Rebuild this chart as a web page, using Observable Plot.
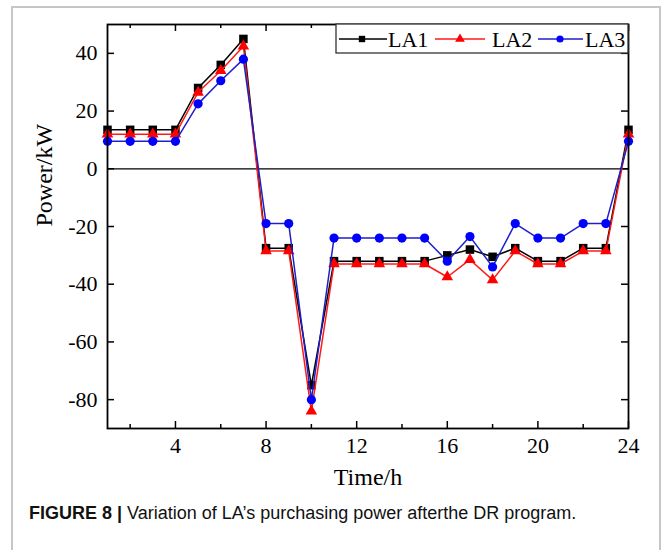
<!DOCTYPE html>
<html>
<head>
<meta charset="utf-8">
<script src="https://cdn.jsdelivr.net/npm/d3@7"></script>
<script src="https://cdn.jsdelivr.net/npm/@observablehq/plot@0.6"></script>
<style>
  html, body { margin: 0; padding: 0; background: #fff; }
  #wrap { position: relative; width: 664px; height: 550px; overflow: hidden; background: #fff; }
  #border { position: absolute; left: 11px; top: 6px; width: 650px; height: 600px; box-sizing: border-box;
            border: 2px solid #c6c6c6; border-bottom: none; }
  #chart { position: absolute; left: 0; top: 0; }
  #legend { position: absolute; left: 336px; top: 24px; }
  #caption { position: absolute; left: 29px; top: 503px; font-family: "Liberation Sans", Arial, sans-serif;
             font-size: 18px; line-height: 20px; color: #111; white-space: nowrap; }
  #caption b { font-weight: bold; }
</style>
</head>
<body>
<div id="wrap">
  <div id="border"></div>
  <div id="chart"></div>
  <div id="legend"></div>
  <div id="caption"><b>FIGURE 8 |</b> Variation of LA’s purchasing power afterthe DR program.</div>
</div>
<script>
// ---- data ----
const hours = [1,2,3,4,5,6,7,8,9,10,11,12,13,14,15,16,17,18,19,20,21,22,23,24];
const seriesNames = ["LA1", "LA2", "LA3"];
const LA1 = [13.5,13.5,13.5,13.5,28,36,45,-27.5,-27.5,-75,-32,-32,-32,-32,-32,-30,-28,-30.5,-27.5,-32,-32,-27.5,-27.5,13.5];
const LA2 = [12,12,12,12,26.5,34,42.5,-28.5,-28.5,-84,-33,-33,-33,-33,-33,-37.5,-31.5,-38.5,-28.5,-33,-33,-28.5,-28.5,12];
const LA3 = [9.5,9.5,9.5,9.5,22.5,30.5,38,-19,-19,-80,-24,-24,-24,-24,-24,-32,-23.5,-34,-19,-24,-24,-19,-19,9.5];
const xTickLabels = [4, 8, 12, 16, 20, 24];
const xMinorTicks = [2, 6, 10, 14, 18, 22];
const yTickLabels = [-80, -60, -40, -20, 0, 20, 40];

// ---- styles ----
const lineColors = {LA1: "#000000", LA2: "#ff1a1a", LA3: "#1f1fc8"};
const markColors = {LA1: "#000000", LA2: "#ff0000", LA3: "#0000ff"};
const symbols = {LA1: "square", LA2: "triangle", LA3: "circle"};
const radii = {LA1: 4.8, LA2: 4.3, LA3: 4.6};

const valuesBy = {LA1, LA2, LA3};
const rows = seriesNames.flatMap(s => hours.map((h, i) => ({series: s, hour: h, value: valuesBy[s][i]})));

const W = 664, H = 500, mL = 107, mR = 36, mT = 24, mB = 72;
const plotW = W - mL - mR, plotH = H - mT - mB;
const font = "Liberation Serif, Times New Roman, serif";

const seriesMarks = seriesNames.flatMap(s => {
  const d = rows.filter(r => r.series === s);
  return [
    Plot.line(d, {x: "hour", y: "value", stroke: lineColors[s], strokeWidth: 1.5}),
    Plot.dot(d, {x: "hour", y: "value", symbol: () => symbols[s], fill: markColors[s], stroke: "none", r: radii[s]})
  ];
});

const chart = Plot.plot({
  width: W, height: H,
  marginLeft: mL, marginRight: mR, marginTop: mT, marginBottom: mB,
  style: {fontFamily: font, fontSize: "22px", color: "#000", background: "transparent", overflow: "visible"},
  x: {domain: [1, 24], axis: null},
  y: {domain: [-90, 50], axis: null},
  symbol: {type: "identity"},
  marks: [
    Plot.ruleY([0], {stroke: "#000", strokeWidth: 1.2}),
    // inward ticks
    Plot.tickY(yTickLabels, {y: d => d, insetRight: plotW - 7, stroke: "#000", strokeWidth: 1.5}),
    Plot.tickY(yTickLabels, {y: d => d, insetLeft: plotW - 7, stroke: "#000", strokeWidth: 1.5}),
    Plot.tickX(xTickLabels, {x: d => d, insetTop: plotH - 7, stroke: "#000", strokeWidth: 1.5}),
    Plot.tickX(xMinorTicks, {x: d => d, insetTop: plotH - 4, stroke: "#000", strokeWidth: 1.5}),
    Plot.tickX(xTickLabels, {x: d => d, insetBottom: plotH - 7, stroke: "#000", strokeWidth: 1.5}),
    Plot.tickX(xMinorTicks, {x: d => d, insetBottom: plotH - 4, stroke: "#000", strokeWidth: 1.5}),
    Plot.axisY({ticks: yTickLabels, tickSize: 0, tickPadding: 10, fontSize: 22, tickFormat: d => String(d), label: null}),
    Plot.axisX({ticks: xTickLabels, tickSize: 0, tickPadding: 9, fontSize: 22, tickFormat: d => String(d), label: null}),
    Plot.text(["Time/h"], {frameAnchor: "bottom", dy: 56, fontSize: 24, fill: "#000"}),
    Plot.text(["Power/kW"], {frameAnchor: "left", dx: -63, rotate: -90, fontSize: 24, fill: "#000"}),
    ...seriesMarks,
    Plot.frame({stroke: "#000", strokeWidth: 1.8})
  ]
});
document.getElementById("chart").appendChild(chart);

// ---- legend (inside top-right of the frame) ----
const legW = 292, legH = 29;
const legItems = [
  {name: "LA1", x0: 3, x1: 51, mx: 26, tx: 52},
  {name: "LA2", x0: 99, x1: 149, mx: 124, tx: 156},
  {name: "LA3", x0: 202, x1: 247, mx: 224, tx: 249}
];
const leg = d3.select("#legend").append("svg").attr("width", legW + 2).attr("height", legH + 2)
  .style("overflow", "visible");
leg.append("rect").attr("x", 0).attr("y", 0).attr("width", legW).attr("height", legH)
  .attr("fill", "#fff").attr("stroke", "#333").attr("stroke-width", 1.3);
legItems.forEach(it => {
  const cy = 15;
  leg.append("line").attr("x1", it.x0).attr("x2", it.x1).attr("y1", cy).attr("y2", cy)
    .attr("stroke", lineColors[it.name]).attr("stroke-width", 1.5);
  const sym = {square: d3.symbolSquare, triangle: d3.symbolTriangle, circle: d3.symbolCircle}[symbols[it.name]];
  leg.append("path").attr("d", d3.symbol(sym, Math.PI * 3.6 * 3.6)())
    .attr("transform", `translate(${it.mx},${cy})`).attr("fill", markColors[it.name]);
  leg.append("text").attr("x", it.tx).attr("y", 23).text(it.name)
    .attr("font-family", font).attr("font-size", 22).attr("fill", "#000");
});
</script>
</body>
</html>
